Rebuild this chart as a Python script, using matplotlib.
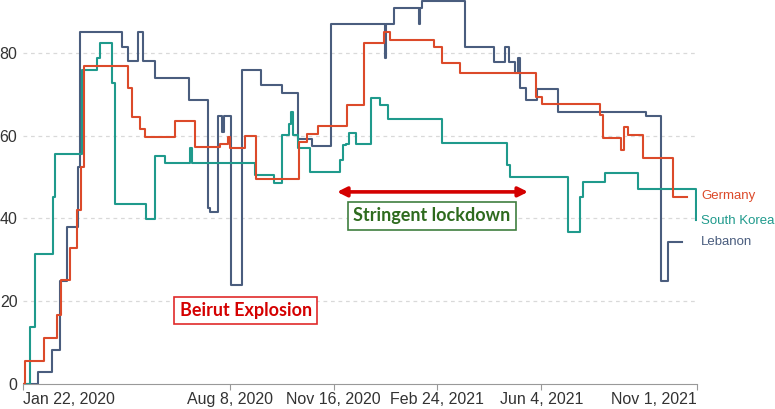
import numpy as np
import pandas as pd
import matplotlib
matplotlib.use("Agg")
import matplotlib.pyplot as plt

plt.rcParams["font.family"] = ["Liberation Sans", "DejaVu Sans"]

# stringency index (days since Jan 22, 2020)
start = pd.Timestamp("2020-01-22")

germany_days = [0, 2, 20.5, 33, 37, 45, 52, 56, 59, 101, 104.5, 112.5, 117.5, 146.5, 165.5, 189.5, 197, 199,
                214, 224, 266, 273, 284, 312, 328.5, 348, 353, 396, 403, 421, 494, 500, 556, 558.5, 576,
                579, 583, 597, 626, 639]
germany_vals = [0, 5.6, 11.1, 16.7, 25, 32.9, 42, 52.5, 76.9, 71.6, 64.4, 61.7, 59.7, 63.6, 57.3, 58.0, 59.7, 56.9,
                59.9, 49.4, 58.5, 60.5, 62.2, 67.4, 82.4, 85.1, 83.2, 81.5, 77.6, 75.0, 69.4, 67.6, 65.0, 59.3, 56.4,
                62.0, 60.1, 54.5, 45.2, 45.2]

korea_days = [0, 6.5, 12, 28.5, 31, 56.5, 71, 74.5, 85.5, 88.5, 118, 127, 137, 161, 163, 223.5, 242, 249, 256,
              258, 260, 264.5, 276.5, 305.5, 308.5, 311, 314, 321, 335, 344, 351, 403, 466, 469, 525, 536.5,
              539.5, 560.5, 592, 648]
korea_vals = [0, 13.8, 31.4, 45.2, 55.6, 75.8, 78.7, 82.4, 72.6, 43.5, 39.8, 55.1, 53.3, 56.9, 53.3, 50.5, 48.6, 60.1, 62.8,
              65.8, 60.1, 56.9, 51.3, 54.1, 57.7, 58.0, 60.7, 58.0, 69.0, 67.4, 64.0, 58.3, 52.9, 50.1, 36.6, 45.2,
              48.9, 50.9, 47.1, 39.6]

lebanon_days = [0, 14.5, 27.5, 35.5, 42, 52.5, 55, 95, 101.5, 111, 116, 127, 160, 178.5, 180, 188, 192, 194,
                200.5, 211, 229, 249, 264.5, 278.5, 297, 349, 350, 357.5, 381, 382, 384.5, 425.5, 453.5, 464,
                468, 474, 477, 479, 484.5, 494.5, 515, 600, 614, 621.5, 635]
lebanon_vals = [0, 2.8, 8.2, 24.9, 38.0, 52.5, 85.1, 81.5, 77.9, 85.1, 77.9, 74.0, 68.6, 42.4, 41.6, 64.7, 60.9, 64.7,
                23.9, 75.8, 72.2, 70.4, 59.1, 57.5, 87.0, 78.7, 87.0, 90.7, 87.0, 90.7, 92.6, 81.5, 77.7, 81.5,
                77.7, 75.0, 78.7, 71.4, 68.6, 71.3, 65.6, 64.7, 24.9, 34.2, 34.2]

tick_dates = ["2020-01-22", "2020-08-08", "2020-11-16", "2021-02-24", "2021-06-04", "2021-11-01"]
tick_labels = ["Jan 22, 2020", "Aug 8, 2020", "Nov 16, 2020", "Feb 24, 2021", "Jun 4, 2021", "Nov 1, 2021"]
y_ticks = [0, 20, 40, 60, 80]

c_de = "#dc4a2a"
c_kr = "#1f9a8c"
c_lb = "#4a5d7e"

fig = plt.figure(figsize=(7.75, 4.09), dpi=100)
ax = fig.add_axes([23 / 775, 25 / 409, 674 / 775, 384 / 409])

ax.plot(lebanon_days, lebanon_vals, drawstyle="steps-post", color=c_lb, lw=1.5, zorder=3)
ax.plot(germany_days, germany_vals, drawstyle="steps-post", color=c_de, lw=1.5, zorder=4)
ax.plot(korea_days, korea_vals, drawstyle="steps-post", color=c_kr, lw=1.5, zorder=3)

tick_pos = [(pd.Timestamp(d) - start).days for d in tick_dates]
ax.set_xlim(0, tick_pos[-1])
ax.set_ylim(0, 92.75)
ax.set_xticks(tick_pos)
ax.set_xticklabels(tick_labels, fontsize=11.5, color="#333333")
# end labels sit inside the axis range
xl = ax.get_xticklabels()
xl[0].set_ha("left")
xl[-1].set_ha("right")
ax.set_yticks(y_ticks)
ax.set_yticklabels([str(v) for v in y_ticks], fontsize=11.5, color="#333333")
ax.tick_params(axis="x", length=4, color="#999999", pad=2)
ax.tick_params(axis="y", length=0, pad=4)

for v in y_ticks[1:]:
    ax.axhline(v, color="#d9d9d9", lw=0.9, ls=(0, (3, 3)), zorder=1)

for s in ["top", "right", "left"]:
    ax.spines[s].set_visible(False)
ax.spines["bottom"].set_color("#999999")

# country labels at the line ends
ax.text(653, 45.3, "Germany", color=c_de, fontsize=9.5, va="center", clip_on=False)
ax.text(653, 39.4, "South Korea", color=c_kr, fontsize=9.5, va="center", clip_on=False)
ax.text(653, 34.3, "Lebanon", color=c_lb, fontsize=9.5, va="center", clip_on=False)

# annotations
ax.text(214.7, 17.75, "Beirut Explosion", color="#d40000", fontsize=13, fontweight="bold", family="Lato",
        ha="center", va="center", zorder=6,
        bbox=dict(boxstyle="square,pad=0.3", fc="white", ec="#e02a2a", lw=1.2))
ax.text(393.8, 40.6, "Stringent lockdown", color="#2e6b1e", fontsize=13, fontweight="bold", family="Lato",
        ha="center", va="center", zorder=6,
        bbox=dict(boxstyle="square,pad=0.3", fc="white", ec="#3f7f3f", lw=1.2))
ax.annotate("", xy=(486.3, 46.4), xytext=(302.4, 46.4),
            arrowprops=dict(arrowstyle="<|-|>", color="#d40000", lw=2.6, mutation_scale=14,
                            shrinkA=0, shrinkB=0), zorder=6)

fig.savefig("out.png", dpi=100)
